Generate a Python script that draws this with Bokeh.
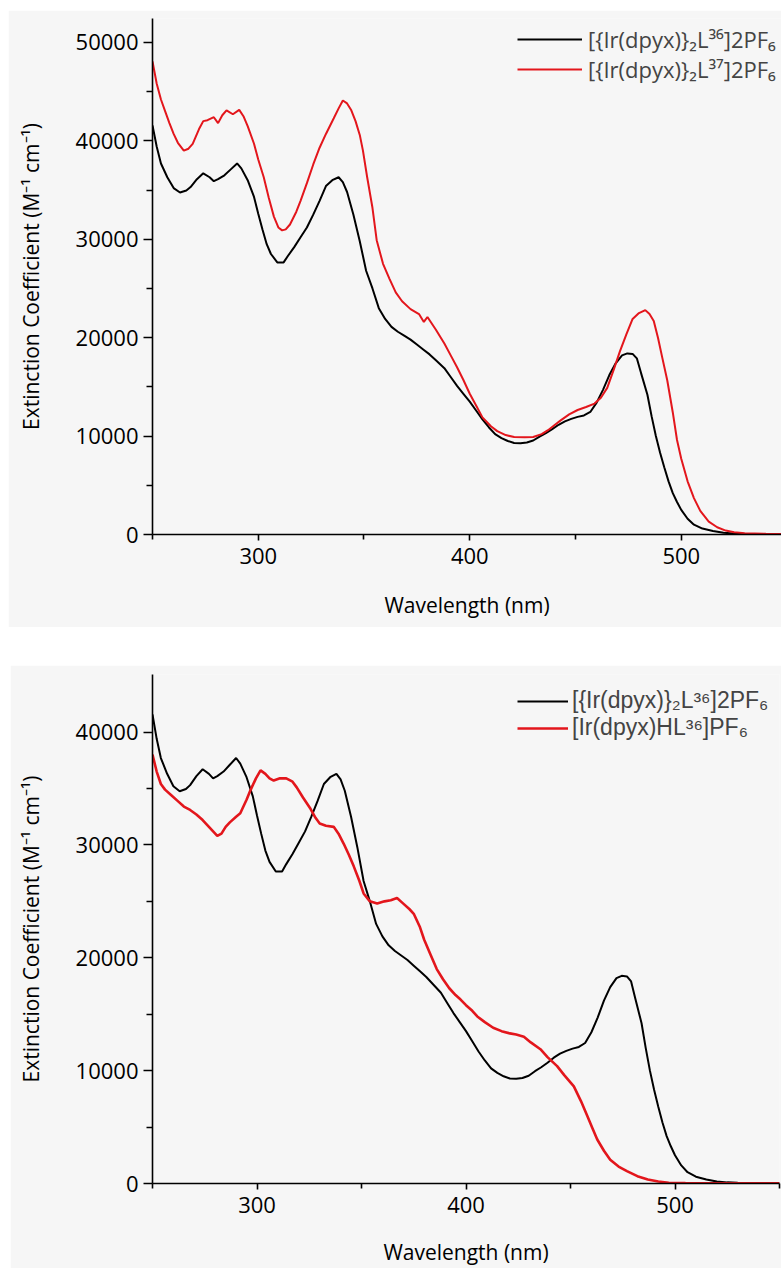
from bokeh.plotting import figure
from bokeh.models import Legend, LegendItem, FixedTicker, Range1d, Spacer
from bokeh.layouts import column, row
from bokeh.embed import file_html
from bokeh.resources import INLINE

# ---------------- data ----------------
wl_dimer36 = [250, 252, 254, 257, 260, 263, 266, 268, 271, 274, 277, 279, 281, 284, 287, 290, 292, 295,
              298, 300, 302, 304, 306, 309, 312, 314, 317, 320, 323, 326, 329, 332, 335, 338, 340, 342,
              345, 348, 351, 354, 357, 360, 363, 366, 369, 372, 375, 378, 381, 384, 388, 391, 394, 397,
              400, 403, 406, 409, 412, 415, 418, 421, 424, 427, 430, 433, 436, 439, 442, 445, 448, 451,
              454, 457, 460, 463, 466, 469, 472, 474.5, 477, 479, 481, 484, 486, 488, 490, 492, 494, 496,
              498, 500, 503, 506, 510, 515, 520, 525, 530, 540, 550]
eps_dimer36 = [41560, 39400, 37700, 36300, 35200, 34750, 34950, 35300, 36100, 36700, 36300, 35900, 36100,
               36500, 37100, 37700, 37200, 36000, 34300, 32600, 31000, 29500, 28500, 27650, 27650, 28300,
               29200, 30200, 31200, 32500, 33900, 35400, 36000, 36300, 35800, 34800, 32500, 29800, 26800,
               25000, 23000, 21900, 21100, 20600, 20200, 19800, 19300, 18800, 18300, 17700, 16900, 16000,
               15100, 14300, 13500, 12600, 11700, 10900, 10200, 9800, 9500, 9300, 9280, 9350, 9550, 9950,
               10300, 10700, 11150, 11500, 11750, 11950, 12100, 12450, 13400, 14700, 16200, 17400, 18200,
               18400, 18350, 17900, 16400, 14200, 12000, 10000, 8300, 6800, 5400, 4200, 3300, 2500, 1600,
               1000, 600, 350, 180, 100, 60, 40, 30]

wl_dimer37 = [250, 252, 254, 256, 258, 260, 262, 264.8, 267, 269, 272, 274, 276, 279, 281, 283, 285, 288,
              291, 293, 295, 298, 300, 302.6, 305, 307.4, 309.5, 311.3, 313, 315, 318, 320, 323, 326, 329,
              332, 335.7, 338, 340, 342, 344, 346, 348, 349.5, 351.5, 354, 356, 359, 362, 365, 368, 372,
              376, 378.3, 380, 384, 388, 391, 394, 397, 400, 403, 406, 410, 413, 417, 421, 426, 430, 434,
              437, 440, 443, 447, 451, 455, 459, 462, 465, 468, 471, 474, 477, 480, 483, 485, 487, 489,
              491, 493.4, 496, 498, 500, 503, 506, 509, 513, 517, 521, 525, 530, 540, 550]
eps_dimer37 = [48060, 45800, 44200, 43000, 41800, 40700, 39800, 39000, 39200, 39700, 41200, 42000, 42100,
               42400, 41800, 42600, 43100, 42700, 43150, 42500, 41500, 39700, 38100, 36300, 34200, 32300,
               31200, 30900, 31000, 31500, 32800, 33900, 35700, 37600, 39300, 40700, 42300, 43300, 44100,
               43800, 43100, 42000, 40600, 39000, 36300, 33200, 29900, 27500, 26000, 24600, 23700, 22900,
               22400, 21600, 22100, 20800, 19400, 18200, 17000, 15700, 14300, 13100, 11900, 11000, 10500,
               10100, 9900, 9870, 9900, 10200, 10600, 11100, 11600, 12200, 12650, 12950, 13300, 13900,
               14900, 16700, 18600, 20300, 21900, 22500, 22800, 22400, 21700, 20000, 18000, 15650, 12400,
               9600, 7700, 5400, 3700, 2400, 1300, 740, 400, 230, 130, 70, 40]

wl_mono36 = [250, 252, 254, 256, 259, 262, 265, 268, 271, 274, 276, 279, 281, 283, 285, 287, 290, 292,
             295, 297, 299.5, 301.7, 304, 306, 308, 311, 314, 317, 319, 322, 325.6, 328, 330, 333, 336.7,
             339, 341.5, 344, 346.3, 349, 351, 354, 357.5, 361, 364, 367, 370, 373, 375, 378, 380, 383,
             386, 389, 392, 395, 397.4, 400, 403, 405.4, 409, 413, 417, 421, 424, 427.7, 431, 435.6, 439,
             443.6, 447, 451.6, 455, 458, 460.5, 462.8, 466, 469, 473, 477, 482, 487, 492, 497, 505, 550]
eps_mono36 = [38000, 36500, 35400, 34900, 34400, 33900, 33400, 33100, 32700, 32200, 31800, 31200, 30800,
              31000, 31600, 32000, 32500, 32800, 34000, 34900, 35900, 36600, 36300, 35900, 35700, 35900,
              35900, 35600, 35100, 34200, 33200, 32400, 31900, 31700, 31600, 31000, 30100, 29100, 28100,
              26800, 25700, 25000, 24800, 25000, 25100, 25300, 24800, 24300, 23900, 22700, 21600, 20300,
              19000, 18100, 17300, 16700, 16300, 15800, 15300, 14800, 14300, 13800, 13500, 13300, 13200,
              13000, 12500, 11900, 11200, 10400, 9600, 8600, 7300, 6000, 4900, 3900, 2900, 2100, 1500,
              1100, 650, 350, 170, 70, 30, 10]

x_major = [300, 400, 500]
x_minor = [250, 350, 450, 550]
y_major_top = [0, 10000, 20000, 30000, 40000, 50000]
y_minor_top = [5000, 15000, 25000, 35000, 45000]
y_major_bot = [0, 10000, 20000, 30000, 40000]
y_minor_bot = [5000, 15000, 25000, 35000]

label_dimer36 = "[{Ir(dpyx)}\u2082L\u00b3\u2076]2PF\u2086"
label_dimer37 = "[{Ir(dpyx)}\u2082L\u00b3\u2077]2PF\u2086"
label_mono36 = "[Ir(dpyx)HL\u00b3\u2076]PF\u2086"

RED = "#e3161c"
BG = "#f6f6f6"
FONT = "Open Sans"


def style(p, ymaj, ymin):
    p.xaxis.ticker = FixedTicker(ticks=x_major, minor_ticks=x_minor)
    p.yaxis.ticker = FixedTicker(ticks=ymaj, minor_ticks=ymin)
    p.xgrid.visible = False
    p.ygrid.visible = False
    p.outline_line_color = None
    p.background_fill_color = BG
    p.border_fill_color = BG
    for ax in (p.xaxis[0], p.yaxis[0]):
        ax.axis_line_width = 1.6
        ax.axis_line_color = "black"
        ax.major_tick_line_width = 1.6
        ax.minor_tick_line_width = 1.6
        ax.major_tick_line_color = "black"
        ax.minor_tick_line_color = "black"
        ax.major_tick_in = 0
        ax.minor_tick_in = 0
        ax.major_label_text_font = FONT
        ax.major_label_text_font_size = "22px"
        ax.major_label_text_color = "black"
        ax.axis_label_text_font = FONT
        ax.axis_label_text_font_size = "21px"
        ax.axis_label_text_font_style = "normal"
        ax.axis_label_text_color = "black"
    p.yaxis.major_tick_out = 9
    p.yaxis.minor_tick_out = 6
    p.xaxis.major_tick_out = 6
    p.xaxis.minor_tick_out = 5
    p.yaxis.major_label_standoff = 5
    p.xaxis.major_label_standoff = 7
    p.yaxis.axis_label = "Extinction Coefficient (M\u207b\u00b9 cm\u207b\u00b9)"
    p.xaxis.axis_label = "Wavelength (nm)"
    p.yaxis.axis_label_standoff = 28


# ---------------- top panel ----------------
p1 = figure(width=773, height=617, output_backend="svg", toolbar_location=None,
            x_range=Range1d(250, 547.4), y_range=Range1d(0, 52430),
            min_border_left=144, min_border_right=0, min_border_top=8, min_border_bottom=93)
style(p1, y_major_top, y_minor_top)
p1.xaxis.axis_label_standoff = 24
r1a = p1.line(wl_dimer36, eps_dimer36, line_color="black", line_width=2)
r1b = p1.line(wl_dimer37, eps_dimer37, line_color=RED, line_width=2)
leg1 = Legend(items=[LegendItem(label=label_dimer36, renderers=[r1a]),
                     LegendItem(label=label_dimer37, renderers=[r1b])],
              location=(365, 450), glyph_width=65, glyph_height=22, label_height=22,
              label_standoff=6, spacing=-7, padding=0, margin=0,
              border_line_color=None, background_fill_alpha=0,
              label_text_font=FONT, label_text_font_size="22px")
p1.add_layout(leg1)

# ---------------- bottom panel ----------------
p2 = figure(width=771, height=603, output_backend="svg", toolbar_location=None,
            x_range=Range1d(250, 550), y_range=Range1d(0, 45100),
            min_border_left=142, min_border_right=2, min_border_top=9, min_border_bottom=84)
style(p2, y_major_bot, y_minor_bot)
p2.xaxis.axis_label_standoff = 22
r2a = p2.line(wl_dimer36, eps_dimer36, line_color="black", line_width=2)
r2b = p2.line(wl_mono36, eps_mono36, line_color=RED, line_width=2.6)
leg2 = Legend(items=[LegendItem(label=label_dimer36, renderers=[r2a]),
                     LegendItem(label=label_mono36, renderers=[r2b])],
              location=(365, 442), glyph_width=51, glyph_height=22, label_height=22,
              label_standoff=4, spacing=-6, padding=0, margin=0,
              border_line_color=None, background_fill_alpha=0,
              label_text_font="Liberation Sans", label_text_font_size="23px")
p2.add_layout(leg2)

layout = column(Spacer(height=10),
                row(Spacer(width=8), p1),
                Spacer(height=38),
                row(Spacer(width=10), p2))
open("out.html", "w").write(file_html(layout, INLINE))
